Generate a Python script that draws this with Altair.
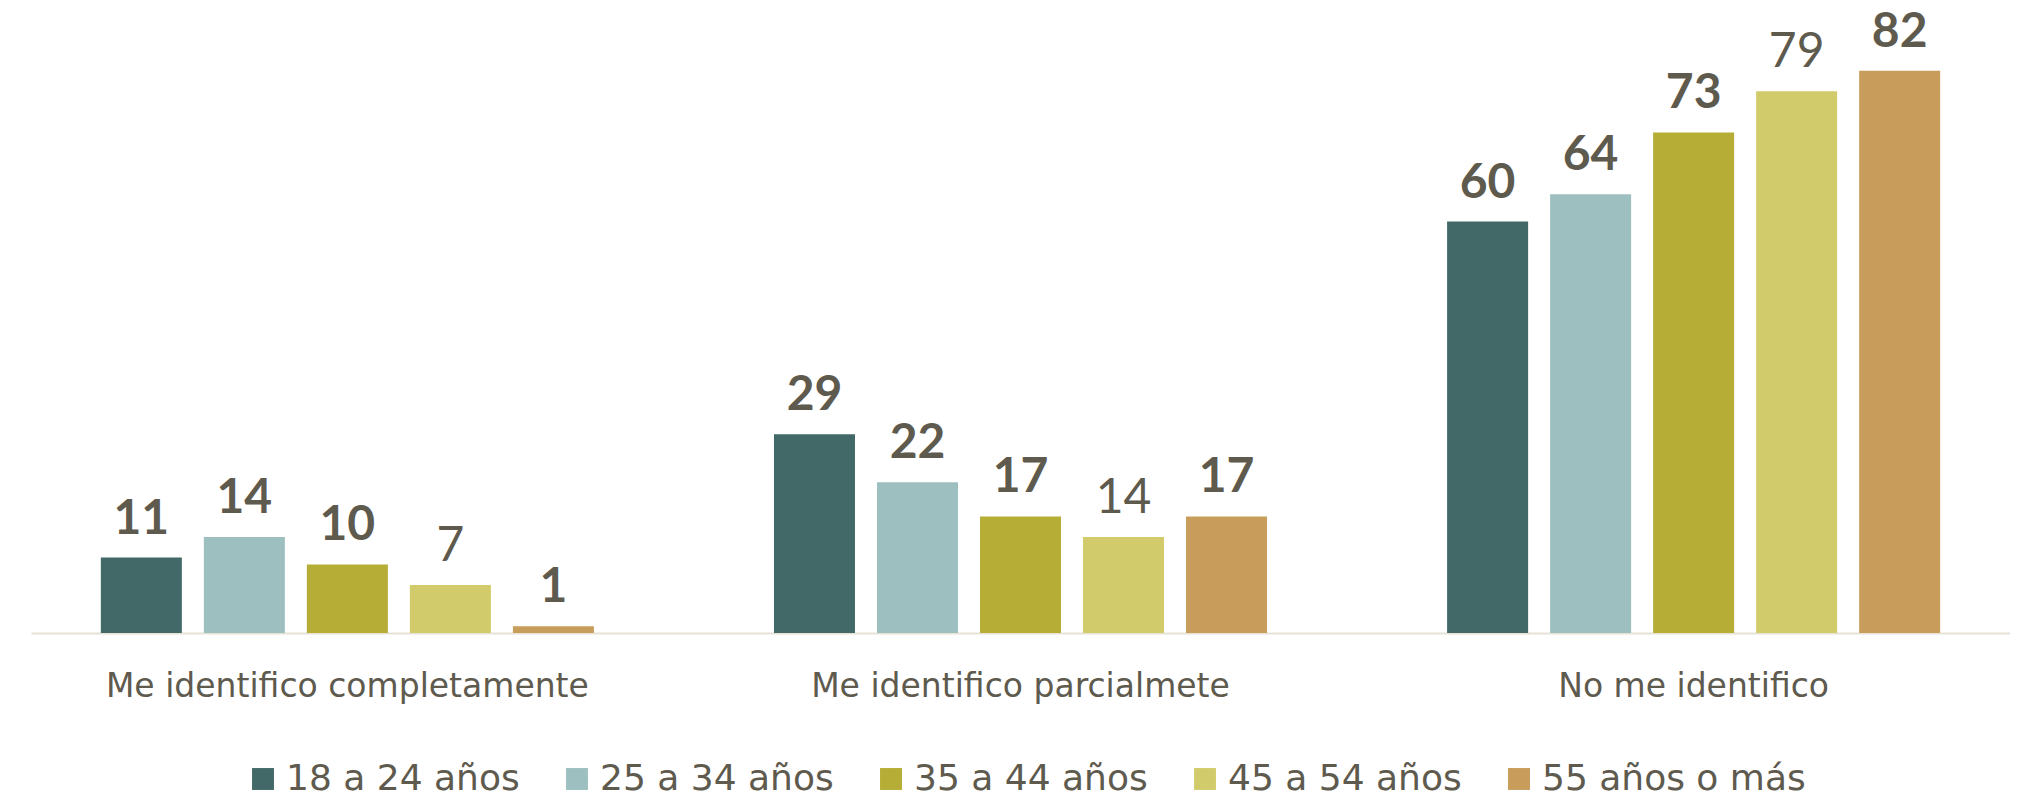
import altair as alt
import pandas as pd

categories = ["Me identifico completamente", "Me identifico parcialmete", "No me identifico"]
series = ["18 a 24 años", "25 a 34 años", "35 a 44 años", "45 a 54 años", "55 años o más"]
colors = ["#426868", "#9dbfbf", "#b5ad35", "#d2cb6c", "#c89d5c"]
values = {
    "18 a 24 años": [11, 29, 60],
    "25 a 34 años": [14, 22, 64],
    "35 a 44 años": [10, 17, 73],
    "45 a 54 años": [7, 14, 79],
    "55 años o más": [1, 17, 82],
}
light_series = ["45 a 54 años"]

rows = []
for s in series:
    for c, v in zip(categories, values[s]):
        rows.append({"cat": c, "serie": s, "val": v, "light": s in light_series})
df = pd.DataFrame(rows)

FONT = "DejaVu Sans"
NUMFONT = "Lato"
TXT = "#5e5a4e"

x = alt.X("cat:N", sort=categories, title=None,
          scale=alt.Scale(paddingInner=0.06, paddingOuter=0),
          axis=alt.Axis(labelAngle=0, labelFontSize=33, labelFont=FONT, labelColor=TXT,
                        labelPadding=37, ticks=False, domainColor="#e6e2d6", domainWidth=2,
                        labelLimit=0))
xo = alt.XOffset("serie:N", sort=series,
                 scale=alt.Scale(paddingInner=0.2136, paddingOuter=0.678))
y = alt.Y("val:Q", scale=alt.Scale(domain=[0, 91], nice=False, zero=True), axis=None)

base = alt.Chart(df).encode(x=x, xOffset=xo, y=y)

bars = base.mark_bar().encode(
    color=alt.Color("serie:N", sort=series, scale=alt.Scale(domain=series, range=colors),
                    legend=alt.Legend(title=None, orient="none", direction="horizontal",
                                      legendX=214, legendY=752, columns=5,
                                      symbolType="square", symbolSize=480, symbolStrokeWidth=0,
                                      symbolOpacity=1,
                                      labelFont=FONT, labelFontSize=36, labelColor=TXT,
                                      columnPadding=39, labelOffset=5, labelLimit=0))
)

bold_labels = base.transform_filter("!datum.light").mark_text(
    baseline="alphabetic", dy=-24, font=NUMFONT, fontSize=48, fontWeight="bold", color=TXT
).encode(text="val:Q")

light_labels = base.transform_filter("datum.light").mark_text(
    baseline="alphabetic", dy=-24, font=NUMFONT, fontSize=48, fontWeight="normal", color=TXT
).encode(text="val:Q")

chart = alt.layer(bars, bold_labels, light_labels).properties(
    width=1979, height=624, padding={"left": 23, "top": 0, "right": 0, "bottom": 0}
).configure(background="white", view=alt.ViewConfig(stroke="transparent"))

chart.save("out.html", embed_options={"renderer": "svg", "actions": False})
